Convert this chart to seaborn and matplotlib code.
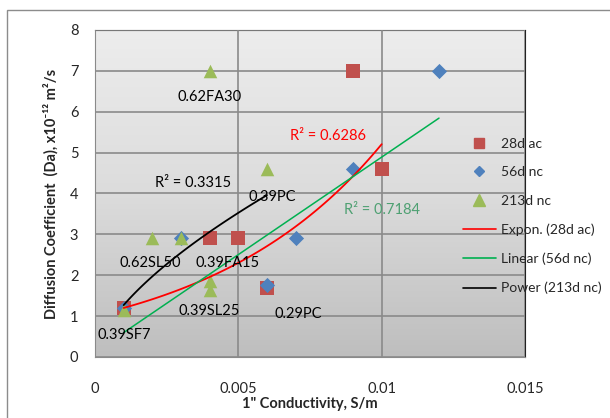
# Diffusion coefficient vs 1" conductivity, with Excel-style trendlines.

import numpy as np
import seaborn as sbn
import matplotlib.pyplot as plt
import pandas as pd
from matplotlib.patches import Rectangle
from matplotlib.lines import Line2D
from matplotlib.colors import LinearSegmentedColormap

# Data
x_28d = [0.001, 0.004, 0.005, 0.006, 0.009, 0.010]
y_28d = [1.2, 2.9, 2.9, 1.7, 7.0, 4.6]

x_56d = [0.001, 0.003, 0.006, 0.007, 0.009, 0.012]
y_56d = [1.2, 2.9, 1.75, 2.9, 4.6, 7.0]

x_213d = [0.001, 0.002, 0.003, 0.004, 0.004, 0.004, 0.006]
y_213d = [1.15, 2.9, 2.9, 1.65, 1.85, 7.0, 4.6]

# trendline coefficients as shown on the chart
expon_28d = [1.02, 163.0]      # y = a * exp(b x)
linear_56d = [477.0, 0.12]     # y = m x + c
power_213d = [102.0, 0.635]    # y = a * x^b

r2_labels = ['R² = 0.6286', 'R² = 0.7184', 'R² = 0.3315']

# point labels: text, anchor x, anchor y, offset px
point_labels = [
    ('0.62FA30', 0.004, 7.0, 0, -26),
    ('0.39PC', 0.006, 4.6, 5, -28),
    ('0.62SL50', 0.002, 2.9, -2, -25),
    ('0.39FA15', 0.004, 2.9, 18, -25),
    ('0.39SL25', 0.004, 1.7, 0, -23),
    ('0.29PC', 0.006, 1.7, 31, -26),
    ('0.39SF7', 0.001, 1.15, 1, -25),
]

sbn.set_style('white')
plt.rcParams['font.family'] = ['Lato', 'DejaVu Sans']

df = pd.concat([
    pd.DataFrame({'x': x_28d, 'y': y_28d, 'series': '28d ac'}),
    pd.DataFrame({'x': x_56d, 'y': y_56d, 'series': '56d nc'}),
    pd.DataFrame({'x': x_213d, 'y': y_213d, 'series': '213d nc'}),
])

fig = plt.figure(figsize=(6.1, 4.18), dpi=100)
fig.patches.append(Rectangle((7 / 610, -0.1), 1.2, 1 - 10 / 418 + 0.1,
                             transform=fig.transFigure, fill=False,
                             edgecolor='#8c8c8c', linewidth=1.0))
ax = fig.add_axes([95 / 610, 61 / 418, 430 / 610, 327 / 418])

# gradient plot area, light at top, darker at bottom
grey_cmap = LinearSegmentedColormap.from_list('bg', ['#ededed', '#dcdcdc', '#bebebe'])
grad = np.linspace(0, 1, 256).reshape(-1, 1)
ax.imshow(grad, extent=[0, 0.015, 0, 8], aspect='auto', cmap=grey_cmap,
          origin='upper', zorder=0)

palette = {'28d ac': '#c0504d', '56d nc': '#4f81bd', '213d nc': '#9bbb59'}
markers = {'28d ac': 's', '56d nc': 'D', '213d nc': '^'}
sizes = {'28d ac': 95, '56d nc': 60, '213d nc': 95}
for name in ['28d ac', '56d nc', '213d nc']:
    sub = df[df['series'] == name]
    sbn.scatterplot(data=sub, x='x', y='y', color=palette[name],
                    marker=markers[name], s=sizes[name], linewidth=0,
                    ax=ax, zorder=3, legend=False)

xe = np.linspace(min(x_28d), max(x_28d), 100)
ax.plot(xe, expon_28d[0] * np.exp(expon_28d[1] * xe), color='#ff0000', lw=1.3, zorder=4)
xl = np.linspace(min(x_56d), max(x_56d), 100)
ax.plot(xl, linear_56d[0] * xl + linear_56d[1], color='#00b050', lw=1.1, zorder=4)
xp = np.linspace(min(x_213d), max(x_213d), 100)
ax.plot(xp, power_213d[0] * xp ** power_213d[1], color='#000000', lw=1.3, zorder=4)

for text, px, py, dx, dy in point_labels:
    ax.annotate(text, (px, py), xytext=(dx * 0.72, dy * 0.72),
                textcoords='offset points', ha='center', va='center',
                fontsize=10.5, color='black', zorder=5)

ax.text(0.0068, 5.3, r2_labels[0], color='#ff0000', fontsize=10.5, zorder=5)
ax.text(0.0087, 3.5, r2_labels[1], color='#4ea072', fontsize=10.5, zorder=5)
ax.text(0.0021, 4.15, r2_labels[2], color='black', fontsize=10.5, zorder=5)

ax.set_xlim(0, 0.015)
ax.set_ylim(0, 8)
ax.set_xticks([0, 0.005, 0.01, 0.015])
ax.set_xticklabels(['0', '0.005', '0.01', '0.015'])
ax.set_yticks(range(0, 9))
ax.grid(True, color='#8a8a8a', linewidth=1.2)
ax.set_axisbelow(False)
for line in ax.get_xgridlines() + ax.get_ygridlines():
    line.set_zorder(1)
ax.tick_params(axis='both', length=4, color='#8a8a8a', labelsize=10.5, pad=14)
ax.tick_params(axis='y', pad=8)
for side in ['left', 'bottom']:
    ax.spines[side].set_color('#8a8a8a')
for side in ['top', 'right']:
    ax.spines[side].set_color('#222222')

ax.set_xlabel('1" Conductivity, S/m', fontsize=10.5, fontweight='bold', labelpad=1)
ax.set_ylabel('Diffusion Coefficient  (Da), x10⁻¹² m²/s', fontsize=10.5,
              fontweight='bold', labelpad=8)

handles = [
    Line2D([], [], ls='', marker='s', color=palette['28d ac'], ms=7),
    Line2D([], [], ls='', marker='D', color=palette['56d nc'], ms=5),
    Line2D([], [], ls='', marker='^', color=palette['213d nc'], ms=8),
    Line2D([], [], color='#ff0000', lw=1.2),
    Line2D([], [], color='#00b050', lw=1.2),
    Line2D([], [], color='#000000', lw=1.2),
]
names = ['28d ac', '56d nc', '213d nc', 'Expon. (28d ac)', 'Linear (56d nc)', 'Power (213d nc)']
fig.legend(handles, names, loc='upper left', bbox_to_anchor=(450 / 610, 1 - 125 / 418),
           frameon=False, fontsize=10, handlelength=2.4, handletextpad=0.4,
           labelspacing=1.2)

plt.savefig('out.png', dpi=100)
